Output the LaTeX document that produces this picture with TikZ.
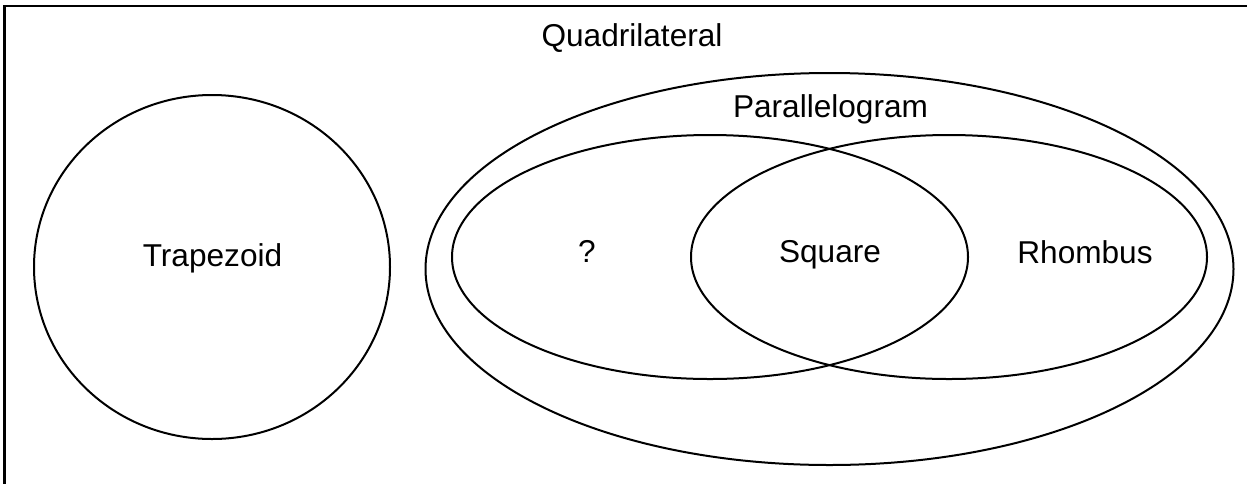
\documentclass[tikz,border=0pt]{standalone}
\usepackage{fontspec}
\setmainfont{Liberation Sans}
\usepackage{tikz}

\tikzset{
  setline/.style={line width=1pt},
  setlabel/.style={anchor=base,inner sep=0pt,font=\fontsize{15.8}{19}\selectfont}
}

\begin{document}
\begin{tikzpicture}[x=0.5pt,y=-0.5pt]
\useasboundingbox (0,0) rectangle (1247,483);
\clip (0,0) rectangle (1247,483);
\draw[line width=1.25pt] (4.7,6) rectangle (1270,500);
\node[setlabel] (quad) at (632,46) {Quadrilateral};
\draw[setline] (212,267) ellipse [x radius=178, y radius=172];
\node[setlabel] (trap) at (212.5,266) {Trapezoid};
\draw[setline] (829.5,269) ellipse [x radius=404, y radius=196];
\node[setlabel] (para) at (830.5,117) {Parallelogram};
\draw[setline] (710,257) ellipse [x radius=258, y radius=122];
\draw[setline] (949,257) ellipse [x radius=258, y radius=122];
\node[setlabel] (rect) at (587,262) {?};
\node[setlabel] (sq) at (830,262) {Square};
\node[setlabel] (rhom) at (1085,263) {Rhombus};
\end{tikzpicture}
\end{document}
